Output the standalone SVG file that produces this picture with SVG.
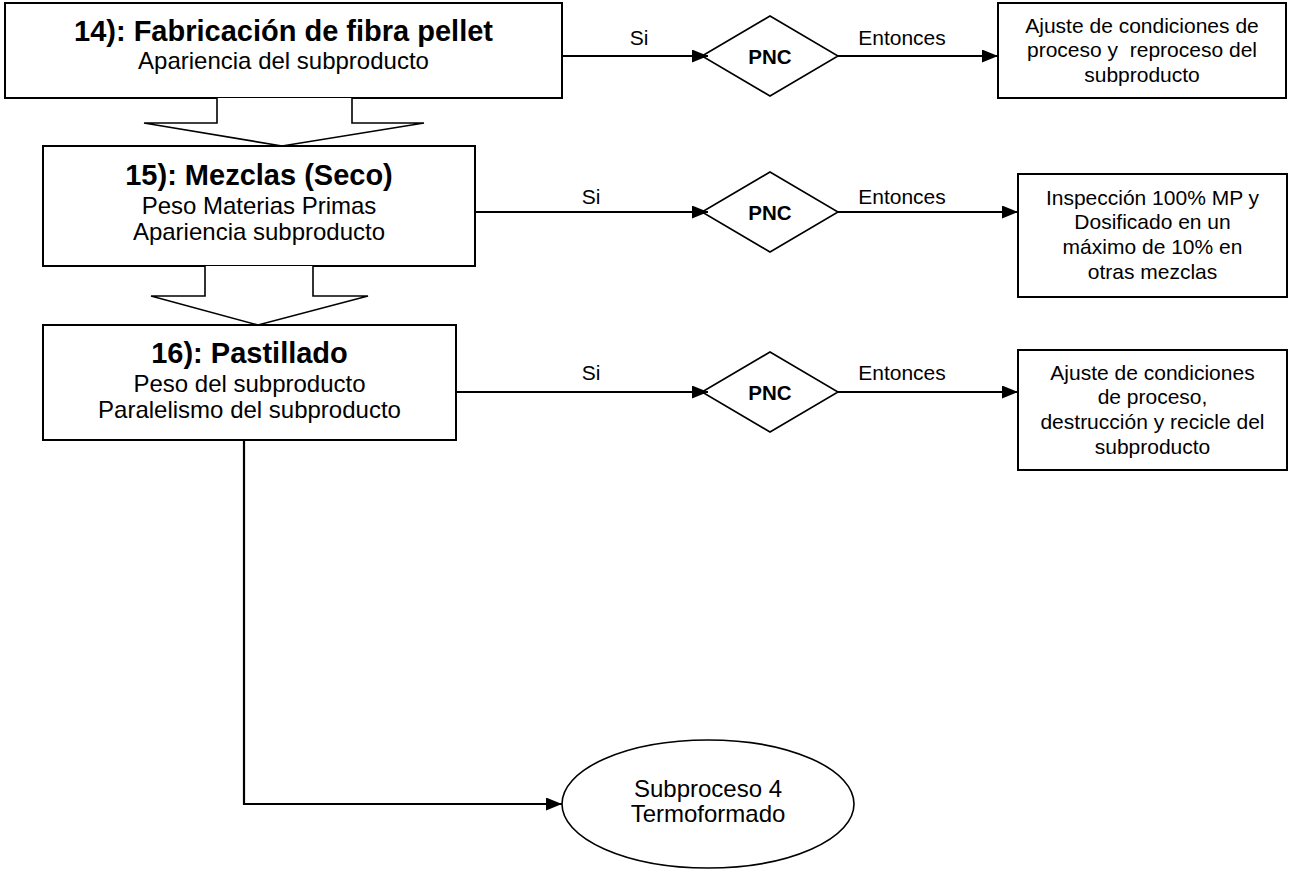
<svg xmlns="http://www.w3.org/2000/svg" width="1291" height="879" viewBox="0 0 1291 879">
  <style>
    .box { fill: #fff; stroke: #000; stroke-width: 2; }
    .shape { fill: #fff; stroke: #000; stroke-width: 1.6; }
    .link { fill: none; stroke: #000; stroke-width: 2.2; }
    text { font-family: "Liberation Sans", Arial, sans-serif; fill: #000; text-anchor: middle; }
    .title { font-size: 29px; font-weight: bold; }
    .sub { font-size: 24px; }
    .lbl { font-size: 21px; }
    .pnc { font-size: 20.5px; font-weight: bold; }
  </style>
  <defs>
    <marker id="arrow" markerWidth="16" markerHeight="13" refX="16" refY="6.5" orient="auto" markerUnits="userSpaceOnUse">
      <path d="M0,0 L16,6.5 L0,13 Z" fill="#000"/>
    </marker>
  </defs>
  <rect width="1291" height="879" fill="#fff"/>

  <!-- step boxes -->
  <g id="step14">
    <rect class="box" x="5" y="3" width="557" height="95"/>
    <text class="title" x="283.5" y="41">14): Fabricación de fibra pellet</text>
    <text class="sub" x="283.5" y="69">Apariencia del subproducto</text>
  </g>
  <g id="flow14to15">
    <path class="shape" d="M217,98 V123 H144 L282,146 L424,123 H352 V98"/>
  </g>
  <g id="step15">
    <rect class="box" x="43" y="146" width="432" height="120"/>
    <text class="title" x="259" y="185">15): Mezclas (Seco)</text>
    <text class="sub" x="259" y="214">Peso Materias Primas</text>
    <text class="sub" x="259" y="240">Apariencia subproducto</text>
  </g>
  <g id="flow15to16">
    <path class="shape" d="M205,266 V296 H151 L258,325 L368,296 H313 V266"/>
  </g>
  <g id="step16">
    <rect class="box" x="43" y="325" width="413" height="115"/>
    <text class="title" x="249.5" y="363">16): Pastillado</text>
    <text class="sub" x="249.5" y="392">Peso del subproducto</text>
    <text class="sub" x="249.5" y="418">Paralelismo del subproducto</text>
  </g>

  <!-- decisions -->
  <g id="pnc1">
    <path class="shape" d="M702,56 L770,16 L838,56 L770,96 Z"/>
    <text class="pnc" x="770" y="64">PNC</text>
  </g>
  <g id="pnc2">
    <path class="shape" d="M702,212 L770,172 L838,212 L770,252 Z"/>
    <text class="pnc" x="770" y="220">PNC</text>
  </g>
  <g id="pnc3">
    <path class="shape" d="M702,392 L770,352 L838,392 L770,432 Z"/>
    <text class="pnc" x="770" y="400">PNC</text>
  </g>

  <!-- corrective actions -->
  <g id="action1">
    <rect class="box" x="998" y="3" width="288" height="95"/>
    <text class="lbl" x="1142" y="33">Ajuste de condiciones de</text>
    <text class="lbl" x="1142" y="57" xml:space="preserve">proceso y  reproceso del</text>
    <text class="lbl" x="1142" y="82">subproducto</text>
  </g>
  <g id="action2">
    <rect class="box" x="1018" y="174" width="269" height="123"/>
    <text class="lbl" x="1152.5" y="205">Inspección 100% MP y</text>
    <text class="lbl" x="1152.5" y="229">Dosificado en un</text>
    <text class="lbl" x="1152.5" y="254">máximo de 10% en</text>
    <text class="lbl" x="1152.5" y="279">otras mezclas</text>
  </g>
  <g id="action3">
    <rect class="box" x="1018" y="350" width="269" height="120"/>
    <text class="lbl" x="1152.5" y="380">Ajuste de condiciones</text>
    <text class="lbl" x="1152.5" y="404">de proceso,</text>
    <text class="lbl" x="1152.5" y="429">destrucción y recicle del</text>
    <text class="lbl" x="1152.5" y="454">subproducto</text>
  </g>

  <!-- next subprocess -->
  <g id="subprocess4">
    <ellipse class="shape" cx="708" cy="804" rx="146" ry="64"/>
    <text class="sub" x="708" y="797">Subproceso 4</text>
    <text class="sub" x="708" y="822">Termoformado</text>
  </g>

  <!-- connectors -->
  <g id="connectors">
    <path class="link" d="M562,56 H708" marker-end="url(#arrow)"/>
    <path class="link" d="M838,56 H998" marker-end="url(#arrow)"/>
    <path class="link" d="M475,212 H708" marker-end="url(#arrow)"/>
    <path class="link" d="M838,212 H1018" marker-end="url(#arrow)"/>
    <path class="link" d="M456,392 H708" marker-end="url(#arrow)"/>
    <path class="link" d="M838,392 H1018" marker-end="url(#arrow)"/>
    <path class="link" d="M244,440 V804 H562" marker-end="url(#arrow)"/>
    <text class="lbl" x="639" y="45">Si</text>
    <text class="lbl" x="902" y="45">Entonces</text>
    <text class="lbl" x="591" y="204">Si</text>
    <text class="lbl" x="902" y="204">Entonces</text>
    <text class="lbl" x="591" y="380">Si</text>
    <text class="lbl" x="902" y="380">Entonces</text>
  </g>
</svg>
